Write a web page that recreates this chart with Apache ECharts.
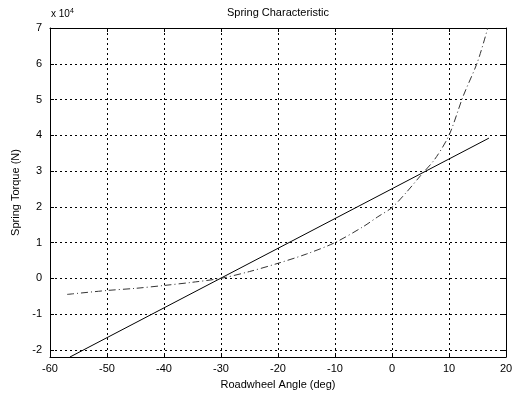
<!DOCTYPE html>
<html>
<head>
<meta charset="utf-8">
<script src="https://cdn.jsdelivr.net/npm/echarts@6/dist/echarts.min.js"></script>
<style>
  html, body { margin: 0; padding: 0; background: #fff; }
  #chart { width: 523px; height: 396px; }
</style>
</head>
<body>
<div id="chart"></div>
<script>
// roadwheel angle (deg) / spring torque in units of 1e4 N
const linearAngle = [-56.5, 17]
const linearTorque = [-2.2, 3.92]

const curveAngle = [-57, -50, -45, -40, -35, -30, -25, -20, -15, -10, -5, -2.5, 0, 2.5, 5, 7.5, 10, 12.5, 15, 16.8]
const curveTorque = [-0.45, -0.34, -0.28, -0.2, -0.11, 0, 0.19, 0.42, 0.68, 1.0, 1.45, 1.72, 1.98, 2.4, 2.87, 3.33, 4.0, 5.1, 6.05, 7.0]

const yTicks = [-2, -1, 0, 1, 2, 3, 4, 5, 6, 7]

const chart = echarts.init(document.getElementById('chart'))

const font = 'Liberation Sans, Arial, sans-serif'
const gridLine = { show: true, lineStyle: { color: '#000', width: 1, type: [2, 3] } }

const option = {
  animation: false,
  backgroundColor: '#fff',
  title: {
    text: 'Spring Characteristic',
    left: 273,
    top: 2,
    textAlign: 'center',
    textStyle: { fontFamily: font, fontSize: 11, fontWeight: 'normal', color: '#000' }
  },
  grid: { left: 50, right: 17, top: 28, bottom: 39, containLabel: false },
  xAxis: [{
    type: 'value',
    min: -60, max: 20, interval: 10,
    name: 'Roadwheel Angle (deg)',
    nameLocation: 'middle',
    nameGap: 22,
    nameTextStyle: { fontFamily: font, fontSize: 11, color: '#000' },
    axisLine: { show: true, onZero: false, lineStyle: { color: '#000', width: 1 } },
    axisTick: { show: true, inside: true, length: 4, lineStyle: { color: '#000' } },
    axisLabel: { fontFamily: font, fontSize: 11, color: '#000', margin: 6 },
    splitLine: gridLine
  }, {
    type: 'value', position: 'top',
    min: -60, max: 20, interval: 10,
    axisLine: { show: true, onZero: false, lineStyle: { color: '#000', width: 1 } },
    axisTick: { show: true, inside: true, length: 4, lineStyle: { color: '#000' } },
    axisLabel: { show: false },
    splitLine: { show: false }
  }],
  yAxis: [{
    type: 'value',
    min: -2.2, max: 7,
    name: 'Spring Torque (N)',
    nameLocation: 'middle',
    nameGap: 27,
    nameTextStyle: { fontFamily: font, fontSize: 11, color: '#000' },
    axisLine: { show: true, onZero: false, lineStyle: { color: '#000', width: 1 } },
    axisTick: { show: true, inside: true, length: 4, customValues: yTicks, lineStyle: { color: '#000' } },
    axisLabel: { fontFamily: font, fontSize: 11, color: '#000', margin: 8, customValues: yTicks },
    splitLine: gridLine
  }, {
    type: 'value', position: 'right',
    min: -2.2, max: 7,
    axisLine: { show: true, onZero: false, lineStyle: { color: '#000', width: 1 } },
    axisTick: { show: true, inside: true, length: 4, customValues: yTicks, lineStyle: { color: '#000' } },
    axisLabel: { show: false, customValues: yTicks },
    splitLine: { show: false }
  }],
  graphic: [{
    type: 'text',
    left: 51, top: 8,
    style: {
      text: 'x 10{sup|4}',
      fontFamily: font, fontSize: 10, fill: '#000',
      rich: { sup: { fontSize: 7, verticalAlign: 'top', padding: [0, 0, 6, 0] } }
    }
  }],
  series: [{
    type: 'line',
    data: linearAngle.map((a, i) => [a, linearTorque[i]]),
    showSymbol: false,
    clip: true,
    lineStyle: { color: '#000', width: 1 }
  }, {
    type: 'line',
    data: curveAngle.map((a, i) => [a, curveTorque[i]]),
    showSymbol: false,
    smooth: 0.3,
    clip: true,
    lineStyle: { color: '#333', width: 1, type: [7, 3, 1, 3] }
  }]
}

chart.setOption(option)
</script>
</body>
</html>
